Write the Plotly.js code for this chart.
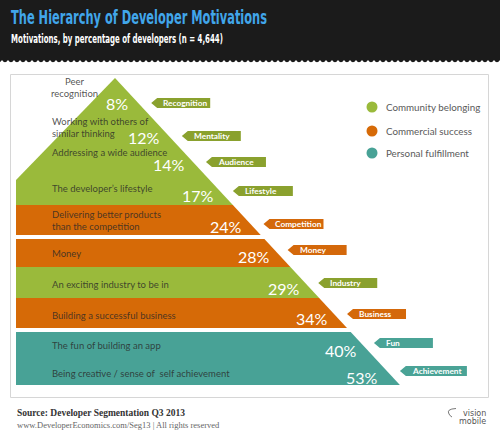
<!DOCTYPE html>
<html>
<head>
<meta charset="utf-8">
<script src="https://cdn.plot.ly/plotly-3.0.1.min.js"></script>
<style>
html,body{margin:0;padding:0;background:#fff;}
#chart{width:500px;height:435px;}
</style>
</head>
<body>
<div id="chart"></div>
<script>
// ---------------- DATA ----------------
var tags = ['Recognition','Mentality','Audience','Lifestyle','Competition','Money','Industry','Business','Fun','Achievement'];
var descriptions = [
  'Peer\nrecognition',
  'Working with others of\nsimilar thinking',
  'Addressing a wide audience',
  'The developer\u2019s lifestyle',
  'Delivering better products\nthan the competition',
  'Money',
  'An exciting industry to be in',
  'Building a successful business',
  'The fun of building an app',
  'Being creative / sense of  self achievement'
];
var values = [8, 12, 14, 17, 24, 28, 29, 34, 40, 53];
var groups = ['Community belonging','Community belonging','Community belonging','Community belonging',
              'Commercial success','Commercial success','Community belonging','Commercial success',
              'Personal fulfillment','Personal fulfillment'];
var groupNames = ['Community belonging','Commercial success','Personal fulfillment'];

var titleText = 'The Hierarchy of Developer Motivations';
var subtitleText = 'Motivations, by percentage of developers (n = 4,644)';
var sourceText = 'Source: Developer Segmentation Q3 2013';
var creditText = 'www.DeveloperEconomics.com/Seg13 | All rights reserved';

// ---------------- LAYOUT / STYLE ----------------
var groupColors = {'Community belonging':'#9aba3b','Commercial success':'#d66a07','Personal fulfillment':'#48a296'};
var tagColors = {'Community belonging':'#8aa12e','Commercial success':'#d4680a','Personal fulfillment':'#4aa396'};
var apexX = 115, apexY = 78, leftX = 16, leftCornerY = 180, slope = 0.928;
function edge(y){ return apexX + (y - apexY) * slope; }
var bands = [
  {rows:[0,1,2,3], top:apexY, bottom:205},
  {rows:[4], top:205, bottom:235},
  {rows:[5], top:239, bottom:267},
  {rows:[6], top:267, bottom:298},
  {rows:[7], top:298, bottom:328},
  {rows:[8,9], top:332, bottom:385}
];
var descY = [87.5, 127, 152, 188, 220, 253, 284, 315, 345, 373];
var pctY  = [103,137,164,195,226,256,288,318,350,377];
var tagY  = [103,136,162,191,224,250,283,314,343,371];
var tagW  = [59,59,60,60,60,59,59,59,59,67];
var legendY = [107,131,153];
var titleWidth = 256, subtitleWidth = 212;

var traces = [];
var annotations = [];

bands.forEach(function(b){
  var col = groupColors[groups[b.rows[0]]];
  var xs, ys;
  if (b.top === apexY) {
    xs = [apexX, edge(b.bottom), leftX, leftX, apexX];
    ys = [apexY, b.bottom, b.bottom, leftCornerY, apexY];
  } else {
    xs = [leftX, edge(b.top), edge(b.bottom), leftX, leftX];
    ys = [b.top, b.top, b.bottom, b.bottom, b.top];
  }
  traces.push({type:'scatter', mode:'lines', x:xs, y:ys, fill:'toself', fillcolor:col,
    line:{width:0, color:col}, hoverinfo:'skip', showlegend:false});
});

groupNames.forEach(function(g){
  var xs = [], ys = [];
  for (var i = 0; i < tags.length; i++) {
    if (groups[i] !== g) continue;
    var x0 = edge(tagY[i]) + 13, yc = tagY[i], w = tagW[i], h = 4.9;
    xs.push(x0, x0 + 6, x0 + w, x0 + w, x0 + 6, x0, null);
    ys.push(yc, yc - h, yc - h, yc + h, yc + h, yc, null);
  }
  traces.push({type:'scatter', mode:'lines', x:xs, y:ys, fill:'toself', fillcolor:tagColors[g],
    line:{width:0, color:tagColors[g]}, hoverinfo:'skip', showlegend:false, connectgaps:false});
});

traces.push({type:'scatter', mode:'markers', x:[372,372,372], y:legendY,
  marker:{size:11, color:groupNames.map(function(g){return groupColors[g];})},
  hoverinfo:'skip', showlegend:false});

var descFont = {family:'Lato, "Open Sans", sans-serif', size:9.5, color:'rgba(40,40,40,0.8)'};
for (var i = 0; i < tags.length; i++) {
  annotations.push({x: i === 0 ? 74 : 50, y: descY[i], xref:'x', yref:'y',
    text: descriptions[i].split('\n').join('<br>'),
    showarrow:false, xanchor: i === 0 ? 'center' : 'left', yanchor:'middle',
    align: i === 0 ? 'center' : 'left', font: descFont});
  annotations.push({x: edge(pctY[i]) - (i === 9 ? 12 : 8), y: pctY[i], xref:'x', yref:'y',
    text: values[i] + '%', showarrow:false, xanchor:'right', yanchor:'middle',
    font:{family:'Lato, sans-serif', size:16, color:'#ffffff'}});
  annotations.push({x: edge(tagY[i]) + 13 + 10, y: tagY[i] + 0.3, xref:'x', yref:'y', text: tags[i],
    showarrow:false, xanchor:'left', yanchor:'middle',
    font:{family:'Lato, sans-serif', size:8.3, color:'#ffffff', weight:700}});
}

groupNames.forEach(function(g, k){
  annotations.push({x:384, y:legendY[k], xref:'x', yref:'y', text:g, showarrow:false,
    xanchor:'left', yanchor:'middle', font:{family:'Lato, sans-serif', size:9.8, color:'#5a5a5a'}});
});

annotations.push({x:9, y:17.5, xref:'x', yref:'y', text:titleText, showarrow:false, xanchor:'left', yanchor:'middle',
  font:{family:'"Liberation Sans Narrow", "DejaVu Sans Condensed", sans-serif', size:19.5, color:'#41a6ea', weight:700}});
annotations.push({x:9, y:38, xref:'x', yref:'y', text:subtitleText, showarrow:false, xanchor:'left', yanchor:'middle',
  font:{family:'"Liberation Sans Narrow", "DejaVu Sans Condensed", sans-serif', size:12.5, color:'#ffffff', weight:700}});

annotations.push({x:15, y:413, xref:'x', yref:'y', text:sourceText, showarrow:false, xanchor:'left', yanchor:'middle',
  font:{family:'"Liberation Serif", "DejaVu Serif", serif', size:9.5, color:'#333333', weight:700}});
annotations.push({x:15, y:425, xref:'x', yref:'y', text:creditText, showarrow:false, xanchor:'left', yanchor:'middle',
  font:{family:'"Liberation Serif", "DejaVu Serif", serif', size:8.5, color:'#666666'}});
annotations.push({x:488, y:413, xref:'x', yref:'y', text:'vision', showarrow:false, xanchor:'right', yanchor:'middle',
  font:{family:'"DejaVu Sans", sans-serif', size:8, color:'#555555'}});
annotations.push({x:488, y:421, xref:'x', yref:'y', text:'mobile', showarrow:false, xanchor:'right', yanchor:'middle',
  font:{family:'"DejaVu Sans", sans-serif', size:8, color:'#555555'}});

var hp = 'M0,0 H500 V60';
for (var xx = 500; xx > 0; xx -= 6) { hp += ' Q' + (xx - 3) + ',64.5 ' + (xx - 6) + ',60'; }
hp += ' V0 Z';

var shapes = [
  {type:'path', xref:'x', yref:'y', path:hp, fillcolor:'#1b1b1b', line:{width:0}, layer:'below'},
  {type:'rect', xref:'x', yref:'y', x0:10.5, x1:488.5, y0:74.5, y1:397.5, line:{color:'#d6d6d6', width:1}, fillcolor:'rgba(0,0,0,0)', layer:'below'},
  {type:'path', xref:'x', yref:'y', path:'M456,408.5 Q446,409 449,414 Q450,416 452,417', line:{color:'#555', width:0.8}}
];

var layout = {
  width:500, height:435,
  margin:{l:0, r:0, t:0, b:0, pad:0},
  paper_bgcolor:'#ffffff', plot_bgcolor:'#ffffff',
  xaxis:{range:[0,500], visible:false, fixedrange:true},
  yaxis:{range:[435,0], visible:false, fixedrange:true},
  showlegend:false,
  shapes:shapes,
  annotations:annotations
};

Plotly.newPlot('chart', traces, layout, {staticPlot:true, displayModeBar:false}).then(function(gd){
  // condense header texts horizontally to match the narrow display face
  var targets = {}; targets[titleText] = titleWidth; targets[subtitleText] = subtitleWidth;
  var nodes = gd.querySelectorAll('text.annotation-text');
  nodes.forEach(function(t){
    var w = targets[t.textContent];
    if (!w) return;
    var bb = t.getBBox();
    if (bb.width <= w) return;
    var s = w / bb.width;
    t.setAttribute('transform', 'translate(' + bb.x + ',0) scale(' + s + ',1) translate(' + (-bb.x) + ',0)');
  });
});
</script>
</body>
</html>
